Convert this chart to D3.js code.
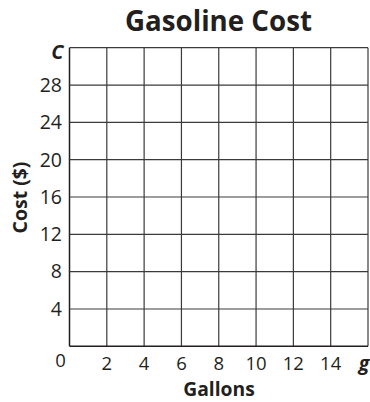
<!DOCTYPE html>
<html><head><meta charset="utf-8">
<script src="https://cdn.jsdelivr.net/npm/d3@7"></script>
<style>
html,body{margin:0;padding:0;background:#fff;}
svg{display:block;}
text{font-family:"Open Sans","Noto Sans",sans-serif;fill:#231f20;}
</style></head>
<body><div id="chart"></div>
<script>
const title = "Gasoline Cost";
const xTitle = "Gallons";
const yTitle = "Cost ($)";
const xVar = "g";
const yVar = "C";
const xDomain = [0, 16];
const yDomain = [0, 32];
const xGrid = [0, 2, 4, 6, 8, 10, 12, 14, 16];
const yGrid = [0, 4, 8, 12, 16, 20, 24, 28, 32];
const xTickLabels = [2, 4, 6, 8, 10, 12, 14];
const yTickLabels = [4, 8, 12, 16, 20, 24, 28];
const originLabel = "0";

const W = 370, H = 402;
const m = {left: 69.5, right: 2, top: 47.7, bottom: 55.7};
const svg = d3.select("#chart").append("svg").attr("width", W).attr("height", H);

const x = d3.scaleLinear().domain(xDomain).range([m.left, W - m.right]);
const y = d3.scaleLinear().domain(yDomain).range([H - m.bottom, m.top]);

// fit a text element's natural width to a target by adjusting font size
function fitWidth(sel, target) {
  const node = sel.node();
  const fs = parseFloat(sel.attr("font-size"));
  const w = node.getComputedTextLength();
  if (w > 0) sel.attr("font-size", (fs * target / w).toFixed(2));
  return sel;
}

// grid
const g = svg.append("g");
g.selectAll("line.v").data(xGrid).join("line").attr("class","v")
  .attr("x1", d => x(d)).attr("x2", d => x(d))
  .attr("y1", y(yDomain[0])).attr("y2", y(yDomain[1]))
  .attr("stroke", d => d === 0 ? "#231f20" : "#3a3a3a").attr("stroke-width", d => d === 0 ? 1.5 : 1.2);
g.selectAll("line.h").data(yGrid).join("line").attr("class","h")
  .attr("y1", d => y(d)).attr("y2", d => y(d))
  .attr("x1", x(xDomain[0])).attr("x2", x(xDomain[1]))
  .attr("stroke", d => d === 0 ? "#231f20" : "#3a3a3a").attr("stroke-width", d => d === 0 ? 1.5 : 1.2);

// tick labels
svg.append("g").selectAll("text").data(xTickLabels).join("text")
  .attr("x", d => x(d)).attr("y", 364).attr("dy", "0.35em")
  .attr("text-anchor", "middle").attr("font-size", 18.5).text(d => d);
svg.append("g").selectAll("text").data(yTickLabels).join("text")
  .attr("x", 62).attr("y", d => y(d)).attr("dy", "0.35em")
  .attr("text-anchor", "end").attr("font-size", 19.5).text(d => d);

svg.append("text").attr("x", 60.5).attr("y", 361).attr("dy", "0.35em")
  .attr("text-anchor", "middle").attr("font-size", 18.5).text(originLabel);

// variable letters
svg.append("text").attr("x", 364).attr("y", 363).attr("dy", "0.35em")
  .attr("text-anchor", "middle").attr("font-size", 19.5).attr("font-weight", "bold")
  .attr("font-style", "italic").text(xVar);
svg.append("text").attr("x", 63.5).attr("y", 51.5).attr("dy", "0.35em")
  .attr("text-anchor", "end").attr("font-size", 20).attr("font-weight", "bold")
  .attr("font-style", "italic").text(yVar);

// titles
fitWidth(svg.append("text").attr("x", 218.5).attr("y", 31)
  .attr("text-anchor", "middle").attr("font-size", 26).attr("font-weight", "bold").text(title), 187);
svg.append("text").attr("x", 219).attr("y", 396.3)
  .attr("text-anchor", "middle").attr("font-size", 19.3).attr("font-weight", "bold").text(xTitle);
fitWidth(svg.append("text").attr("transform", `translate(27,197.5) rotate(-90)`)
  .attr("text-anchor", "middle").attr("font-size", 19).attr("font-weight", "bold").text(yTitle), 72);
</script></body></html>
